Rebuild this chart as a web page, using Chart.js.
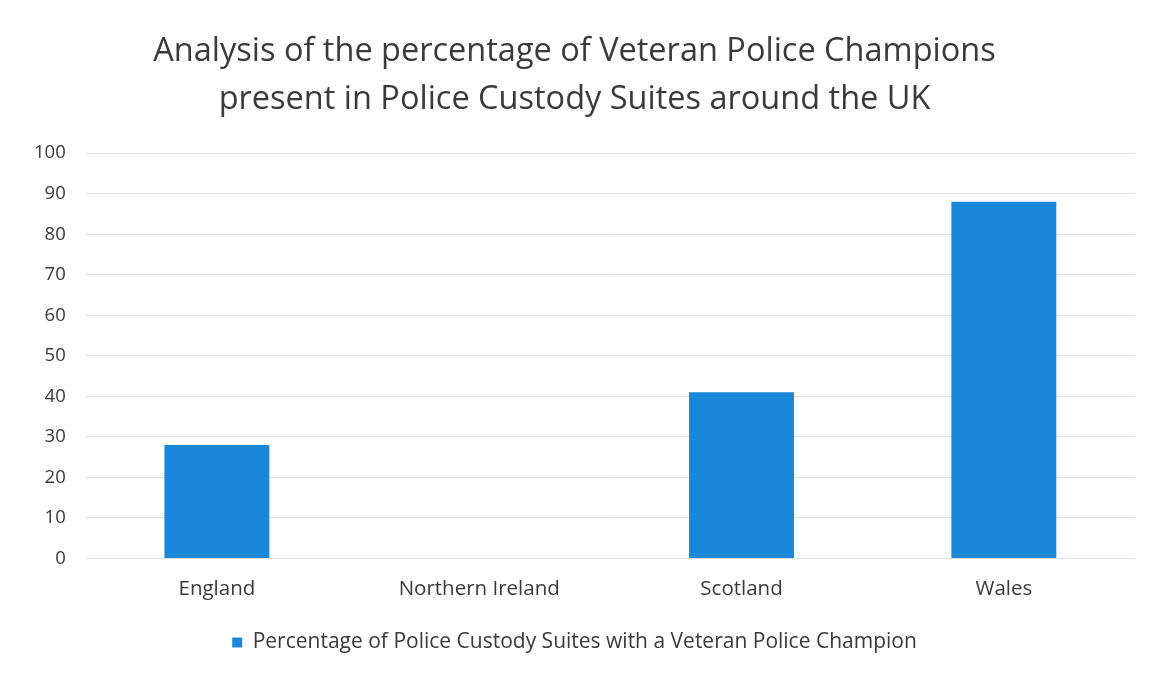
<!DOCTYPE html>
<html>
<head>
<meta charset="utf-8">
<script src="https://cdn.jsdelivr.net/npm/chart.js@4"></script>
<style>
html,body{margin:0;padding:0;background:#fff;}
#wrap{width:1157px;height:676px;}
</style>
</head>
<body>
<div id="wrap"><canvas id="c" width="1157" height="676"></canvas></div>
<script>
const categories = ["England", "Northern Ireland", "Scotland", "Wales"];
const seriesName = "Percentage of Police Custody Suites with a Veteran Police Champion";
const seriesValues = [28, 0, 41, 88];
const titleLines = ["Analysis of the percentage of Veteran Police Champions", "present in Police Custody Suites around the UK"];

const FONT = "'Open Sans', 'Noto Sans', sans-serif";
new Chart(document.getElementById('c'), {
  type: 'bar',
  data: {
    labels: categories,
    datasets: [{
      label: seriesName,
      data: seriesValues,
      backgroundColor: '#1A87D9',
      borderWidth: 0,
      barPercentage: 0.8,
      categoryPercentage: 0.5
    }]
  },
  options: {
    responsive: false,
    animation: false,
    layout: { padding: { left: 14, right: 22, top: 28, bottom: 13 } },
    plugins: {
      title: {
        display: true,
        text: titleLines,
        color: '#3a3a3a',
        font: { family: FONT, size: 32.5, weight: 'normal', lineHeight: 1.48 },
        padding: { top: 0, bottom: 29 }
      },
      legend: {
        position: 'bottom',
        labels: {
          color: '#3a3a3a',
          font: { family: FONT, size: 21 },
          boxWidth: 10, boxHeight: 10,
          padding: 21
        }
      },
      tooltip: { enabled: false }
    },
    scales: {
      x: {
        grid: { display: false },
        border: { display: false },
        ticks: { color: '#3a3a3a', font: { family: FONT, size: 20.5 }, padding: 10 }
      },
      y: {
        min: 0, max: 100,
        ticks: { stepSize: 10, color: '#3a3a3a', font: { family: FONT, size: 18.5 }, padding: 20 },
        grid: { color: '#e2e2e2', drawTicks: false },
        border: { display: false }
      }
    }
  }
});
</script>
</body>
</html>
